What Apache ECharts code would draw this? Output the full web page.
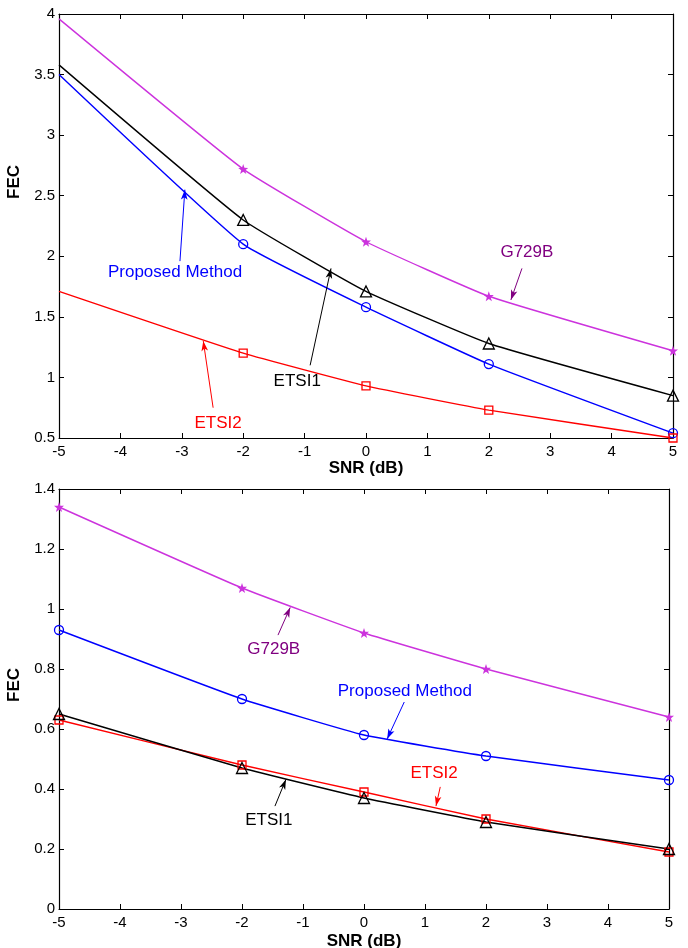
<!DOCTYPE html>
<html>
<head>
<meta charset="utf-8">
<script src="https://cdn.jsdelivr.net/npm/echarts@6/dist/echarts.min.js"></script>
<style>
html,body{margin:0;padding:0;background:#fff;}
#c{width:688px;height:948px;}
</style>
</head>
<body>
<div id="c"></div>
<script>
// ---------- data ----------
const snr = [-5, -2, 0, 2, 5];
const xTicks = [-5, -4, -3, -2, -1, 0, 1, 2, 3, 4, 5];

// Top panel
const topG729B    = [3.96, 2.72, 2.12, 1.67, 1.22];
const topETSI1    = [3.58, 2.30, 1.71, 1.28, 0.85];
const topProposed = [3.50, 2.10, 1.58, 1.11, 0.54];
const topETSI2    = [1.71, 1.20, 0.93, 0.73, 0.50];
const topYTicks   = [0.5, 1, 1.5, 2, 2.5, 3, 3.5, 4];

// Bottom panel
const botG729B    = [1.34, 1.07, 0.92, 0.80, 0.64];
const botProposed = [0.93, 0.70, 0.58, 0.51, 0.43];
const botETSI1    = [0.65, 0.47, 0.37, 0.29, 0.20];
const botETSI2    = [0.63, 0.48, 0.39, 0.30, 0.19];
const botYTicks   = [0, 0.2, 0.4, 0.6, 0.8, 1, 1.2, 1.4];

// Annotations (data coordinates): label, text position, arrow tail, arrow head
const topNotes = [
  {name: 'Proposed Method', text: [-3.11, 1.87], tail: [-3.03, 1.96], head: [-2.95, 2.55]},
  {name: 'ETSI1',           text: [-1.12, 0.97], tail: [-0.91, 1.10], head: [-0.57, 1.90]},
  {name: 'ETSI2',           text: [-2.41, 0.62], tail: [-2.49, 0.75], head: [-2.65, 1.30]},
  {name: 'G729B',           text: [ 2.62, 2.03], tail: [ 2.54, 1.90], head: [ 2.36, 1.64]}
];
const botNotes = [
  {name: 'G729B',           text: [-1.48, 0.867], tail: [-1.41, 0.913], head: [-1.21, 1.005]},
  {name: 'Proposed Method', text: [ 0.67, 0.727], tail: [ 0.66, 0.690], head: [ 0.38, 0.567]},
  {name: 'ETSI2',           text: [ 1.15, 0.453], tail: [ 1.25, 0.407], head: [ 1.18, 0.343]},
  {name: 'ETSI1',           text: [-1.56, 0.297], tail: [-1.46, 0.343], head: [-1.28, 0.432]}
];

// ---------- styles ----------
const FONT = 'Liberation Sans, Arial, sans-serif';
const C = {
  G729B: '#cc33dd', G729Btext: '#800080',
  Proposed: '#0000ff', ETSI1: '#000000', ETSI2: '#ff0000'
};
const starPath = 'path://M0,-10 L2.35,-3.24 L9.51,-3.09 L3.8,1.24 L5.88,8.09 L0,4 L-5.88,8.09 L-3.8,1.24 L-9.51,-3.09 L-2.35,-3.24 Z';
const markerOf = {
  G729B: {symbol: starPath, size: 10, fill: true},
  Proposed: {symbol: 'circle', size: 9, fill: false},
  ETSI1: {symbol: 'triangle', size: 11, fill: false},
  ETSI2: {symbol: 'rect', size: 8, fill: false}
};

function pts(vals, skipFirstMarker) {
  return vals.map((v, i) => {
    const p = {value: [snr[i], v]};
    if (skipFirstMarker && i === 0) p.symbol = 'none';
    return p;
  });
}

function mkSeries(key, vals, gi, skipFirst, note) {
  const m = markerOf[key];
  const col = C[key];
  const s = {
    type: 'line', name: key + gi,
    xAxisIndex: gi * 2, yAxisIndex: gi * 2,
    data: pts(vals, skipFirst),
    smooth: 0.12,
    symbol: m.symbol, symbolSize: m.size,
    showAllSymbol: true,
    lineStyle: {color: col, width: 1.4},
    itemStyle: {color: m.fill ? col : 'rgba(0,0,0,0)', borderColor: col, borderWidth: m.fill ? 0 : 1.3},
    emphasis: {disabled: true},
    animation: false,
    z: 3
  };
  if (note) {
    const tc = key === 'G729B' ? C.G729Btext : col;
    s.markLine = {
      silent: true, animation: false,
      symbolSize: 9,
      label: {show: false},
      lineStyle: {color: tc, width: 1, type: 'solid'},
      data: [[{coord: note.tail, symbol: 'none'}, {coord: note.head, symbol: 'arrow', symbolSize: [5, 10]}]]
    };
    s.markPoint = {
      silent: true, animation: false,
      data: [{
        coord: note.text, symbol: 'circle', symbolSize: 1,
        itemStyle: {color: 'rgba(0,0,0,0)'},
        label: {show: true, position: 'inside', formatter: note.name, color: tc, fontFamily: FONT, fontSize: 17}
      }]
    };
  }
  return s;
}

function noteFor(arr, name) { return arr.find(n => n.name === name); }

const gridsCfg = [
  {left: 59, top: 14, right: 15, height: 424, containLabel: false, outerBoundsMode: 'none'},
  {left: 59, top: 489, right: 19, height: 420, containLabel: false, outerBoundsMode: 'none'}
];

const xAxes = [], yAxes = [];
const yCfg = [
  {min: 0.5, max: 4, interval: 0.5, namePad: [0, 0, 0, 88]},
  {min: 0, max: 1.4, interval: 0.2, namePad: [0, 0, 0, 28]}
];
for (let g = 0; g < 2; g++) {
  const axLine = {show: true, onZero: false, lineStyle: {color: '#000', width: 1.2}};
  const tick = {show: true, inside: true, length: 5, lineStyle: {color: '#000', width: 1}};
  xAxes.push({
    type: 'value', gridIndex: g, position: 'bottom',
    min: xTicks[0], max: xTicks[xTicks.length - 1], interval: 1,
    axisLine: axLine, axisTick: tick,
    axisLabel: {color: '#000', fontFamily: FONT, fontSize: 15, margin: 6},
    splitLine: {show: false},
    name: 'SNR (dB)', nameLocation: 'middle', nameGap: g === 0 ? 20 : 24,
    nameTextStyle: {color: '#000', fontFamily: FONT, fontSize: 17, fontWeight: 'bold'}
  });
  xAxes.push({
    type: 'value', gridIndex: g, position: 'top',
    min: xTicks[0], max: xTicks[xTicks.length - 1], interval: 1,
    axisLine: axLine, axisTick: tick, axisLabel: {show: false}, splitLine: {show: false}
  });
  yAxes.push({
    type: 'value', gridIndex: g, position: 'left',
    min: yCfg[g].min, max: yCfg[g].max, interval: yCfg[g].interval,
    axisLine: axLine, axisTick: tick,
    axisLabel: {color: '#000', fontFamily: FONT, fontSize: 15, margin: 4},
    splitLine: {show: false},
    name: 'FEC', nameLocation: 'middle', nameGap: 32,
    nameTextStyle: {color: '#000', fontFamily: FONT, fontSize: 17, fontWeight: 'bold', padding: yCfg[g].namePad}
  });
  yAxes.push({
    type: 'value', gridIndex: g, position: 'right',
    min: yCfg[g].min, max: yCfg[g].max, interval: yCfg[g].interval,
    axisLine: axLine, axisTick: tick, axisLabel: {show: false}, splitLine: {show: false}
  });
}

const series = [
  mkSeries('G729B', topG729B, 0, true, noteFor(topNotes, 'G729B')),
  mkSeries('ETSI1', topETSI1, 0, true, noteFor(topNotes, 'ETSI1')),
  mkSeries('Proposed', topProposed, 0, true, noteFor(topNotes, 'Proposed Method')),
  mkSeries('ETSI2', topETSI2, 0, true, noteFor(topNotes, 'ETSI2')),
  mkSeries('G729B', botG729B, 1, false, noteFor(botNotes, 'G729B')),
  mkSeries('Proposed', botProposed, 1, false, noteFor(botNotes, 'Proposed Method')),
  mkSeries('ETSI2', botETSI2, 1, false, noteFor(botNotes, 'ETSI2')),
  mkSeries('ETSI1', botETSI1, 1, false, noteFor(botNotes, 'ETSI1'))
];

const chart = echarts.init(document.getElementById('c'), null, {renderer: 'canvas'});
chart.setOption({
  backgroundColor: '#fff',
  animation: false,
  grid: gridsCfg,
  xAxis: xAxes,
  yAxis: yAxes,
  series: series
});
</script>
</body>
</html>
